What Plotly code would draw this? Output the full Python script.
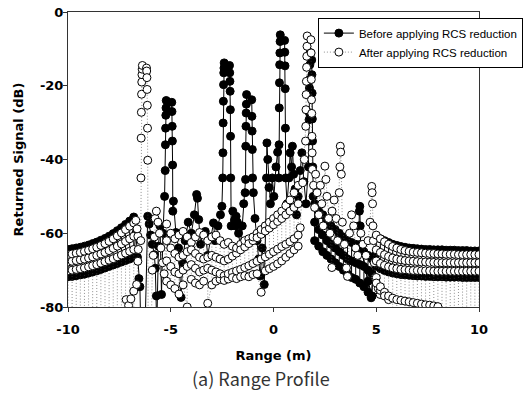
import plotly.graph_objects as go

# range profile: range in m, returned signal in dB
X_TICKS = [-10, -5, 0, 5, 10]
X_LABELS = ["-10", "-5", "0", "5", "10"]
Y_TICKS = [-80, -60, -40, -20, 0]
Y_LABELS = ["-80", "-60", "-40", "-20", "0"]

# left side lobes (-10 .. -6.8 m), sampled every 0.2 m
LEFT_X = [-10.0, -9.8, -9.6, -9.4, -9.2, -9.0, -8.8, -8.6, -8.4, -8.2, -8.0, -7.8, -7.6, -7.4, -7.2, -7.0, -6.8]
BEFORE_LEFT_TOP = [-64.4, -64.2, -64.0, -63.8, -63.5, -63.2, -62.8, -62.4, -61.9, -61.4, -60.8, -60.1, -59.3, -58.5, -57.6, -56.7, -55.6]
BEFORE_LEFT_BOTTOM = [-71.8, -71.7, -71.5, -71.3, -71.1, -70.8, -70.5, -70.2, -69.8, -69.4, -69.0, -68.6, -68.2, -67.8, -67.4, -67.0, -66.5]
AFTER_LEFT_TOP = [-65.8, -65.6, -65.4, -65.2, -64.9, -64.6, -64.2, -63.8, -63.3, -62.8, -62.2, -61.5, -60.7, -59.9, -59.0, -58.1, -57.2]
AFTER_LEFT_MID = [-67.8, -67.6, -67.4, -67.2, -67.0, -66.7, -66.4, -66.0, -65.6, -65.2, -64.7, -64.1, -63.5, -62.9, -62.2, -61.5, -60.8]
AFTER_LEFT_LOW = [-70.2, -70.0, -69.8, -69.6, -69.4, -69.1, -68.8, -68.5, -68.1, -67.7, -67.3, -66.9, -66.4, -65.9, -65.4, -64.9, -64.4]
AFTER_LEFT_FLOOR = [-87.5, -88.0, -89.0, -87.0, -88.5, -88.0, -89.5, -87.5, -88.0, -88.5, -87.0, -89.0, -88.0, -87.5, -88.5, -88.0, -89.0]

# before: target peaks between -6.7 m and 1.9 m
BEFORE_MID_X = [
    -6.7, -6.62, -6.55, -6.5, -6.46, -6.25, -6.12, -6.05, -5.98, -5.9,
    -5.8, -5.75, -5.7, -5.68, -5.6, -5.52, -5.45, -5.38, -5.3, -5.27,
    -5.26, -5.25, -5.24, -5.23, -5.22, -4.95, -4.94, -4.93, -4.92, -4.91,
    -4.9, -4.87, -4.75, -4.62, -4.5, -4.42, -4.3, -4.15, -4.0, -3.85,
    -3.74, -3.7, -3.64, -3.55, -3.45, -3.32, -3.2, -3.05, -2.92, -2.84,
    -2.7, -2.58, -2.51, -2.47, -2.46, -2.45, -2.44, -2.43, -2.42, -2.41,
    -2.4, -2.14, -2.13, -2.12, -2.11, -2.1, -2.09, -2.08, -2.06, -1.98,
    -1.9, -1.86, -1.82, -1.76, -1.7, -1.62, -1.52, -1.45, -1.38, -1.36,
    -1.35, -1.34, -1.33, -1.32, -1.31, -1.06, -1.05, -1.04, -1.03, -1.02,
    -0.98, -0.9, -0.8, -0.72, -0.65, -0.55, -0.45, -0.38, -0.34, -0.32,
    -0.28, -0.22, -0.15, -0.06, 0.02, 0.12, 0.2, 0.26, 0.27, 0.28,
    0.29, 0.3, 0.31, 0.32, 0.33, 0.54, 0.55, 0.56, 0.57, 0.58,
    0.59, 0.66, 0.75, 0.81, 0.88, 0.92, 0.98, 1.05, 1.12, 1.2,
    1.3, 1.38, 1.48, 1.58, 1.7, 1.72, 1.73, 1.74, 1.75, 1.76,
    1.77, 1.78, 1.86, 1.87, 1.88, 1.89, 1.9, 1.91, 1.93,
]
BEFORE_MID_Y = [
    -60.0, -66.5, -72.3, -74.5, -86.0, -86.0, -55.4, -57.5, -60.5, -63.0,
    -65.8, -69.5, -77.0, -86.0, -63.5, -58.0, -76.6, -60.0, -50.0, -43.0,
    -36.0, -31.5, -28.0, -26.0, -24.0, -24.5, -27.0, -31.0, -35.0, -41.5,
    -54.0, -51.3, -59.8, -64.0, -77.4, -68.0, -62.0, -57.0, -60.0, -55.0,
    -49.5, -50.5, -56.3, -63.0, -60.0, -59.5, -66.0, -61.0, -57.2, -62.0,
    -58.0, -55.0, -52.7, -45.0, -38.2, -30.1, -24.2, -19.7, -16.5, -15.2,
    -13.8, -14.5, -16.5, -18.8, -21.5, -26.5, -33.7, -45.0, -58.0, -54.0,
    -56.5, -58.0, -55.4, -57.0, -60.0, -63.5, -58.0, -52.0, -49.0, -45.4,
    -36.4, -31.0, -27.4, -25.0, -22.4, -23.8, -28.3, -32.3, -37.3, -45.0,
    -49.0, -56.0, -62.0, -67.0, -71.6, -64.0, -73.9, -58.0, -45.0, -35.5,
    -40.0, -47.6, -52.0, -45.0, -50.0, -42.0, -38.0, -45.0, -36.0, -26.0,
    -19.2, -14.3, -11.1, -8.0, -6.2, -7.7, -10.9, -14.6, -20.8, -31.5,
    -45.0, -52.0, -45.0, -38.2, -42.0, -36.4, -44.0, -48.0, -55.0, -50.0,
    -43.0, -38.2, -46.0, -52.0, -42.0, -35.0, -29.2, -27.3, -20.6, -18.3,
    -14.3, -11.0, -13.0, -17.0, -22.0, -29.0, -35.0, -42.0, -50.0,
]

# before: clutter falling off behind the target (2 .. 4.8 m)
MASS_X = [2.0, 2.2, 2.4, 2.6, 2.8, 3.0, 3.2, 3.4, 3.6, 3.8, 4.0, 4.2, 4.4, 4.6, 4.8]
BEFORE_MASS_UPPER = [-52.0, -54.0, -55.0, -56.5, -58.0, -59.0, -60.0, -61.0, -62.0, -62.5, -63.0, -64.0, -65.0, -66.0, -67.0]
BEFORE_MASS_MID = [-57.0, -59.0, -60.5, -62.0, -63.0, -64.0, -65.0, -66.0, -67.0, -67.5, -68.0, -68.5, -69.0, -70.0, -71.0]
BEFORE_MASS_LOWER = [-62.0, -63.5, -65.0, -66.0, -67.0, -68.0, -69.0, -70.0, -71.0, -72.0, -72.5, -73.5, -74.5, -76.0, -77.0]
BEFORE_SPIKE_X = [4.6, 4.24, 4.22, 4.2, 4.18, 4.16, 4.3, 4.75, 4.95]
BEFORE_SPIKE_Y = [-73.0, -63.0, -58.0, -52.7, -54.0, -58.0, -65.0, -77.5, -66.0]

# right side lobes (5 .. 10 m)
RIGHT_X = [5.0, 5.2, 5.4, 5.6, 5.8, 6.0, 6.2, 6.4, 6.6, 6.8, 7.0, 7.2, 7.4, 7.6, 7.8, 8.0, 8.2, 8.4, 8.6, 8.8, 9.0, 9.2, 9.4, 9.6, 9.8, 10.0]
BEFORE_RIGHT_TOP = [-61.0, -61.5, -62.0, -62.5, -63.0, -63.3, -63.6, -63.8, -64.0, -64.1, -64.2, -64.3, -64.4, -64.4, -64.5, -64.5, -64.5, -64.6, -64.6, -64.6, -64.7, -64.7, -64.7, -64.8, -64.8, -64.8]
BEFORE_RIGHT_BOTTOM = [-69.0, -69.6, -70.1, -70.5, -70.8, -71.0, -71.2, -71.3, -71.4, -71.5, -71.6, -71.6, -71.7, -71.7, -71.8, -71.8, -71.8, -71.9, -71.9, -71.9, -71.9, -72.0, -72.0, -72.0, -72.0, -72.0]
AFTER_RIGHT_TOP = [-60.5, -61.5, -62.3, -63.0, -63.6, -64.0, -64.4, -64.7, -64.9, -65.1, -65.2, -65.3, -65.4, -65.5, -65.5, -65.6, -65.6, -65.7, -65.7, -65.7, -65.8, -65.8, -65.8, -65.8, -65.8, -65.8]
AFTER_RIGHT_MID = [-64.5, -65.2, -65.8, -66.3, -66.7, -67.0, -67.2, -67.4, -67.5, -67.6, -67.7, -67.8, -67.8, -67.9, -67.9, -68.0, -68.0, -68.0, -68.0, -68.0, -68.0, -68.0, -68.0, -68.0, -68.0, -68.0]
AFTER_RIGHT_LOW = [-67.5, -68.2, -68.7, -69.1, -69.4, -69.6, -69.8, -69.9, -70.0, -70.1, -70.1, -70.2, -70.2, -70.2, -70.3, -70.3, -70.3, -70.3, -70.3, -70.3, -70.3, -70.3, -70.3, -70.3, -70.3, -70.3]
AFTER_RIGHT_TAIL = [-72.0, -74.5, -76.0, -77.0, -77.6, -78.0, -78.2, -78.4, -78.6, -78.8, -79.0, -79.2, -79.4, -79.5, -79.7, -79.9, -88.0, -87.5, -88.5, -88.0, -89.0, -87.5, -88.0, -88.5, -87.0, -88.0]
AFTER_RIGHT_DEEP = [-73.5, -75.5, -77.0, -78.0, -88.0, -87.5, -89.0, -88.0, -88.5, -87.0, -88.0, -89.0, -87.5, -88.5, -88.0, -87.0, -89.0, -88.0, -87.5, -88.5, -88.0, -89.0, -87.5, -88.0, -88.5, -88.0]

# after: residual peak at -6.3 m and its surroundings
AFTER_MID_X = [
    -7.17, -7.05, -6.94, -6.8, -6.66, -6.6, -6.58, -6.6, -6.64, -6.7,
    -6.46, -6.45, -6.44, -6.43, -6.42, -6.41, -6.4, -6.39, -6.38,
    -6.18, -6.17, -6.16, -6.15, -6.14, -6.13, -6.12, -6.1,
    -5.95, -5.9, -5.85, -5.8, -5.76, -5.7, -5.62, -5.55, -5.48, -5.4, -5.32,
]
AFTER_MID_Y = [
    -78.0, -79.6, -77.8, -75.7, -73.9, -67.6, -64.4, -60.8, -58.8, -56.5,
    -62.0, -45.0, -34.2, -27.2, -22.3, -19.0, -17.0, -15.5, -14.5,
    -15.2, -16.0, -17.8, -21.0, -25.3, -31.5, -40.2, -88.0,
    -88.0, -70.0, -66.0, -61.0, -56.0, -54.0, -57.0, -60.0, -64.0, -68.0, -71.0,
]

# after: the low clutter cloud between -5.2 m and 1.2 m
CENTER_X = [-5.2, -5.0, -4.8, -4.6, -4.4, -4.2, -4.0, -3.8, -3.6, -3.4, -3.2, -3.0, -2.8, -2.6, -2.4, -2.2, -2.0,
            -1.8, -1.6, -1.4, -1.2, -1.0, -0.8, -0.6, -0.4, -0.2, 0.0, 0.2, 0.4, 0.6, 0.8, 1.0, 1.2]
AFTER_CENTER_U1 = [-57.5, -60.0, -61.5, -60.5, -59.5, -61.0, -62.5, -61.0, -59.8, -60.5, -62.0, -61.0, -60.5, -62.0, -63.0, -62.5, -63.5,
                   -64.0, -63.0, -62.0, -61.5, -61.0, -60.0, -59.0, -58.0, -57.0, -56.0, -55.0, -54.0, -52.5, -51.0, -49.0, -47.0]
AFTER_CENTER_U2 = [-62.0, -64.0, -65.5, -66.5, -66.0, -65.0, -64.5, -65.5, -66.5, -67.0, -66.5, -66.0, -66.5, -67.0, -67.5, -67.0, -66.2,
                   -65.4, -64.5, -63.7, -62.8, -62.0, -61.2, -60.3, -59.4, -58.6, -57.7, -56.8, -56.0, -55.0, -54.0, -53.0, -52.0]
AFTER_CENTER_L1 = [-67.5, -69.0, -70.5, -71.0, -70.0, -69.0, -68.5, -69.5, -70.5, -70.0, -69.5, -70.0, -70.5, -71.0, -71.5, -71.0, -70.6,
                   -70.2, -69.8, -69.3, -68.8, -68.2, -67.6, -67.0, -66.4, -65.7, -65.0, -64.3, -63.6, -63.0, -62.3, -61.5, -60.5]
AFTER_CENTER_L2 = [-73.0, -74.0, -75.0, -76.5, -74.0, -80.0, -72.5, -73.5, -74.0, -73.0, -79.0, -74.0, -73.0, -72.5, -72.8, -72.4, -72.0,
                   -72.3, -71.8, -71.5, -71.8, -71.2, -71.0, -76.0, -70.2, -69.6, -69.0, -68.3, -67.5, -66.5, -65.5, -64.5, -63.5]

# after: peak at 1.65 m and scattered returns out to 5.2 m
AFTER_RIGHT1_X = [
    1.3, 1.42, 1.5,
    1.56, 1.57, 1.58, 1.59, 1.6, 1.61, 1.62, 1.63, 1.64,
    1.82, 1.83, 1.84, 1.85, 1.86, 1.87, 1.88, 1.89,
    1.95, 2.0, 2.05, 2.12, 2.2, 2.28, 2.35, 2.42, 2.5, 2.55,
    2.6, 2.68, 2.75, 2.84, 2.85, 2.95, 3.05, 3.12, 3.2, 3.23,
    3.25, 3.27, 3.3, 3.35, 3.45, 3.55, 3.6, 3.7, 3.8, 3.9,
    4.0, 4.1, 4.25, 4.35, 4.5, 4.6, 4.7, 4.78, 4.8, 4.82,
    4.84, 4.86, 4.9, 4.95, 5.1, 5.19,
]
AFTER_RIGHT1_Y = [
    -58.5, -46.3, -40.0,
    -35.0, -31.0, -26.5, -22.4, -18.8, -15.0, -12.0, -9.3, -6.5,
    -7.5, -11.1, -18.3, -23.8, -27.5, -33.7, -38.2, -42.7,
    -47.0, -53.0, -44.0, -49.0, -55.0, -47.0, -52.0, -58.0, -41.8, -45.4,
    -50.0, -56.0, -60.0, -69.3, -54.0, -51.0, -56.0, -62.0, -49.0, -42.0,
    -36.4, -38.0, -44.0, -57.0, -63.0, -69.4, -71.7, -60.0, -55.0, -58.0,
    -64.0, -66.0, -60.0, -63.0, -66.0, -62.0, -57.0, -47.3, -49.0, -52.0,
    -58.0, -62.0, -68.0, -72.0, -75.0, -76.6,
]


def snake(xs, *bands):
    # walk every band at each range bin, alternating direction like the measured trace
    ox, oy = [], []
    for i, x in enumerate(xs):
        order = bands if i % 2 == 0 else bands[::-1]
        for band in order:
            ox.append(x)
            oy.append(band[i])
    return ox, oy


def join(*parts):
    ox, oy = [], []
    for xs, ys in parts:
        ox += list(xs)
        oy += list(ys)
    return ox, oy


before_x, before_y = join(
    snake(LEFT_X, BEFORE_LEFT_TOP, BEFORE_LEFT_BOTTOM),
    (BEFORE_MID_X, BEFORE_MID_Y),
    snake(MASS_X, BEFORE_MASS_UPPER, BEFORE_MASS_MID, BEFORE_MASS_LOWER),
    (BEFORE_SPIKE_X, BEFORE_SPIKE_Y),
    snake(RIGHT_X, BEFORE_RIGHT_TOP, BEFORE_RIGHT_BOTTOM),
)
after_x, after_y = join(
    snake(LEFT_X, AFTER_LEFT_TOP, AFTER_LEFT_MID, AFTER_LEFT_LOW, AFTER_LEFT_FLOOR),
    (AFTER_MID_X, AFTER_MID_Y),
    snake(CENTER_X, AFTER_CENTER_U1, AFTER_CENTER_U2, AFTER_CENTER_L1, AFTER_CENTER_L2),
    (AFTER_RIGHT1_X, AFTER_RIGHT1_Y),
    snake(RIGHT_X, AFTER_RIGHT_TOP, AFTER_RIGHT_MID, AFTER_RIGHT_LOW, AFTER_RIGHT_TAIL, AFTER_RIGHT_DEEP),
)

fig = go.Figure()
fig.add_trace(go.Scatter(
    x=before_x, y=before_y, mode="lines+markers", name="Before applying RCS reduction",
    line=dict(color="black", width=1),
    marker=dict(symbol="circle", size=8, color="black", line=dict(color="black", width=1)),
))
fig.add_trace(go.Scatter(
    x=after_x, y=after_y, mode="lines+markers", name="After applying RCS reduction",
    line=dict(color="#444", width=0.6, dash="1px,2px"),
    marker=dict(symbol="circle", size=8, color="white", line=dict(color="black", width=1)),
))

bold = dict(family="DejaVu Sans", size=13, color="black", weight="bold")
axis_style = dict(
    showline=True, linecolor="#333", linewidth=1, mirror=True,
    ticks="outside", ticklen=4, tickcolor="#333",
    showgrid=False, zeroline=False, tickfont=bold, automargin=False,
)

fig.update_layout(
    width=523, height=400,
    # fixed margins: the legend hangs over the right frame without moving the plot
    margin=dict(l=68, r=44, t=12, b=93, autoexpand=False),
    paper_bgcolor="white", plot_bgcolor="white",
    xaxis=dict(range=[-10, 10], tickvals=X_TICKS, ticktext=X_LABELS, ticklabelstandoff=6,
               title=dict(text="Range (m)", font=bold, standoff=15), **axis_style),
    yaxis=dict(range=[-80, 0], tickvals=Y_TICKS, ticktext=Y_LABELS, ticklabelstandoff=-3,
               title=dict(text="Returned Signal (dB)", font=bold, standoff=13), **axis_style),
    legend=dict(x=0.608, y=0.981, xanchor="left", yanchor="top",
                bgcolor="white", bordercolor="black", borderwidth=1,
                font=dict(family="Liberation Sans, Arial", size=11.5, color="black"),
                tracegroupgap=0),
    annotations=[dict(text="(a) Range Profile", xref="paper", yref="paper",
                      x=0.47, y=-0.24, xanchor="center", yanchor="middle", showarrow=False,
                      font=dict(family="Noto Sans CJK KR", size=18, color="#333"))],
)

# the page's default body margin would shift the 523x400 figure by 8 px
fig.write_html("out.html", config={"displayModeBar": False},
               post_script="document.body.style.margin = '0px';")
